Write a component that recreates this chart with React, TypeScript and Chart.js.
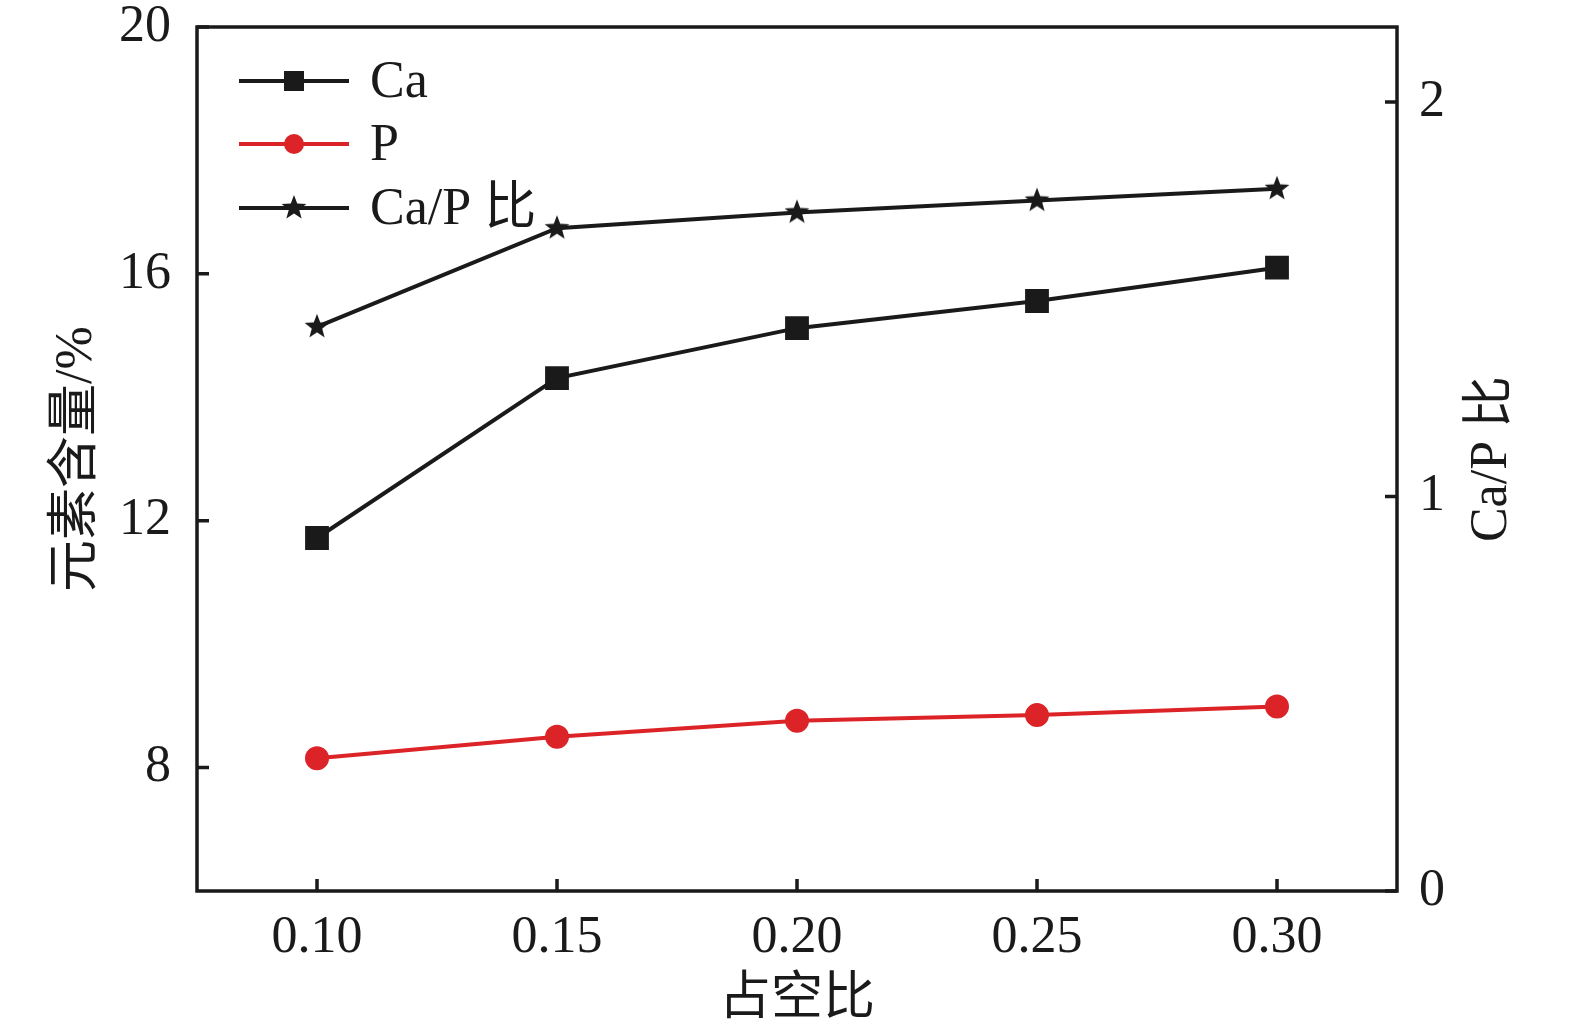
import { useEffect, useRef } from 'react';
import { Chart, registerables } from 'chart.js';
import type { Plugin } from 'chart.js';

Chart.register(...registerables);

// duty ratio (x) and measured values
const dutyRatio = [0.1, 0.15, 0.2, 0.25, 0.3];
const caContent = [11.72, 14.31, 15.12, 15.56, 16.1];
const pContent = [8.15, 8.5, 8.76, 8.85, 8.99];
const caPRatio = [1.43, 1.68, 1.72, 1.75, 1.78];

const xTicks = [0.1, 0.15, 0.2, 0.25, 0.3];
const leftTicks = [8, 12, 16, 20];
const rightTicks = [0, 1, 2];

const seriesNames = ['Ca', 'P', 'Ca/P 比'];
const xTitle = '占空比';
const leftTitle = '元素含量/%';
const rightTitle = 'Ca/P 比';

const INK = '#1a1a1a';
const RED = '#dc2327';
const FONT = '"Liberation Serif", "Times New Roman", "Noto Sans CJK SC", serif';
const FS = 52;

function makeStar(r: number, color: string) {
  const c = document.createElement('canvas');
  const s = Math.ceil(r * 2 + 2);
  c.width = s;
  c.height = s;
  const g = c.getContext('2d')!;
  g.fillStyle = color;
  g.beginPath();
  for (let i = 0; i < 10; i++) {
    const a = -Math.PI / 2 + (i * Math.PI) / 5;
    const rr = i % 2 === 0 ? r : r * 0.42;
    g.lineTo(s / 2 + rr * Math.cos(a), s / 2 + rr * Math.sin(a));
  }
  g.closePath();
  g.fill();
  return c;
}

const framePlugin: Plugin<'line'> = {
  id: 'frame',
  afterDatasetsDraw(chart) {
    const { ctx, chartArea: a, scales } = chart;
    ctx.save();
    ctx.strokeStyle = INK;
    ctx.lineWidth = 3.5;
    ctx.strokeRect(a.left, a.top, a.right - a.left, a.bottom - a.top);
    ctx.beginPath();
    scales.x.ticks.forEach(t => {
      const x = scales.x.getPixelForValue(t.value);
      ctx.moveTo(x, a.bottom);
      ctx.lineTo(x, a.bottom - 12);
    });
    scales.y.ticks.forEach(t => {
      const y = scales.y.getPixelForValue(t.value);
      ctx.moveTo(a.left, y);
      ctx.lineTo(a.left + 12, y);
    });
    scales.y1.ticks.forEach(t => {
      const y = scales.y1.getPixelForValue(t.value);
      ctx.moveTo(a.right, y);
      ctx.lineTo(a.right - 12, y);
    });
    ctx.stroke();
    ctx.restore();
  },
};

const titlesPlugin: Plugin<'line'> = {
  id: 'titles',
  afterDraw(chart) {
    const { ctx, chartArea: a } = chart;
    const midY = (a.top + a.bottom) / 2;
    ctx.save();
    ctx.fillStyle = INK;
    ctx.font = `${FS}px ${FONT}`;
    ctx.textAlign = 'center';
    ctx.textBaseline = 'middle';
    ctx.fillText(xTitle, (a.left + a.right) / 2, 1000);

    ctx.save();
    ctx.translate(77, midY);
    ctx.rotate(-Math.PI / 2);
    ctx.fillText(leftTitle, 0, 0);
    ctx.restore();

    ctx.save();
    ctx.translate(1492, midY);
    ctx.rotate(-Math.PI / 2);
    ctx.fillText(rightTitle, 0, 0);
    ctx.restore();
    ctx.restore();
  },
};

const legendPlugin: Plugin<'line'> = {
  id: 'lineLegend',
  afterDraw(chart) {
    const { ctx } = chart;
    const rows = [81, 144, 208];
    ctx.save();
    ctx.font = `${FS}px ${FONT}`;
    ctx.textBaseline = 'middle';
    ctx.textAlign = 'left';
    chart.data.datasets.forEach((ds, i) => {
      const y = rows[i];
      const color = ds.borderColor as string;
      ctx.strokeStyle = color;
      ctx.fillStyle = color;
      ctx.lineWidth = 4;
      ctx.beginPath();
      ctx.moveTo(239, y);
      ctx.lineTo(349, y);
      ctx.stroke();
      const mx = 294;
      if (i === 0) {
        ctx.fillRect(mx - 10, y - 10, 20, 20);
      } else if (i === 1) {
        ctx.beginPath();
        ctx.arc(mx, y, 10, 0, Math.PI * 2);
        ctx.fill();
      } else {
        const star = ds.pointStyle as HTMLCanvasElement;
        ctx.drawImage(star, mx - star.width / 2, y - star.height / 2);
      }
      ctx.fillStyle = INK;
      ctx.fillText(seriesNames[i], 370, y + 2);
    });
    ctx.restore();
  },
};

export default function App() {
  const canvasRef = useRef<HTMLCanvasElement | null>(null);
  const chartRef = useRef<Chart<'line'> | null>(null);

  useEffect(() => {
    document.body.style.margin = '0';
    if (!canvasRef.current) return;
    const ctx = canvasRef.current.getContext('2d');
    if (!ctx) return;

    const star = makeStar(13, INK);
    const tickFont = { family: FONT, size: FS };

    chartRef.current = new Chart(ctx, {
      type: 'line',
      data: {
        datasets: [
          {
            label: seriesNames[0],
            data: dutyRatio.map((x, i) => ({ x, y: caContent[i] })),
            borderColor: INK,
            backgroundColor: INK,
            borderWidth: 4,
            pointStyle: 'rect',
            pointRadius: 14,
            yAxisID: 'y',
          },
          {
            label: seriesNames[1],
            data: dutyRatio.map((x, i) => ({ x, y: pContent[i] })),
            borderColor: RED,
            backgroundColor: RED,
            borderWidth: 4,
            pointStyle: 'circle',
            pointRadius: 10,
            yAxisID: 'y',
          },
          {
            label: seriesNames[2],
            data: dutyRatio.map((x, i) => ({ x, y: caPRatio[i] })),
            borderColor: INK,
            backgroundColor: INK,
            borderWidth: 4,
            pointStyle: star,
            pointRadius: 13,
            yAxisID: 'y1',
          },
        ],
      },
      options: {
        responsive: false,
        animation: false,
        layout: { padding: { top: 27, left: 0, right: 0, bottom: 0 } },
        plugins: {
          legend: { display: false },
          tooltip: { enabled: false },
        },
        scales: {
          x: {
            type: 'linear',
            min: 0.075,
            max: 0.325,
            grid: { display: false },
            border: { display: false },
            afterBuildTicks: s => {
              s.ticks = xTicks.map(value => ({ value }));
            },
            afterFit: s => {
              s.height = 145;
              s.paddingLeft = 0;
              s.paddingRight = 0;
            },
            ticks: {
              color: INK,
              font: tickFont,
              padding: 8,
              maxRotation: 0,
              callback: v => Number(v).toFixed(2),
            },
          },
          y: {
            type: 'linear',
            position: 'left',
            min: 6,
            max: 20,
            grid: { display: false },
            border: { display: false },
            afterBuildTicks: s => {
              s.ticks = leftTicks.map(value => ({ value }));
            },
            afterFit: s => {
              s.width = 197;
              s.paddingTop = 0;
              s.paddingBottom = 0;
            },
            ticks: { color: INK, font: tickFont, padding: 18 },
          },
          y1: {
            type: 'linear',
            position: 'right',
            min: 0,
            max: 2.19,
            grid: { display: false },
            border: { display: false },
            afterBuildTicks: s => {
              s.ticks = rightTicks.map(value => ({ value }));
            },
            afterFit: s => {
              s.width = 178;
              s.paddingTop = 0;
              s.paddingBottom = 0;
            },
            ticks: { color: INK, font: tickFont, padding: 14 },
          },
        },
      },
      plugins: [framePlugin, titlesPlugin, legendPlugin],
    });

    return () => {
      if (chartRef.current) {
        chartRef.current.destroy();
        chartRef.current = null;
      }
    };
  }, []);

  return (
    <div style={{ width: 1575, height: 1036, background: '#fff' }}>
      <canvas ref={canvasRef} width={1575} height={1036} />
    </div>
  );
}
